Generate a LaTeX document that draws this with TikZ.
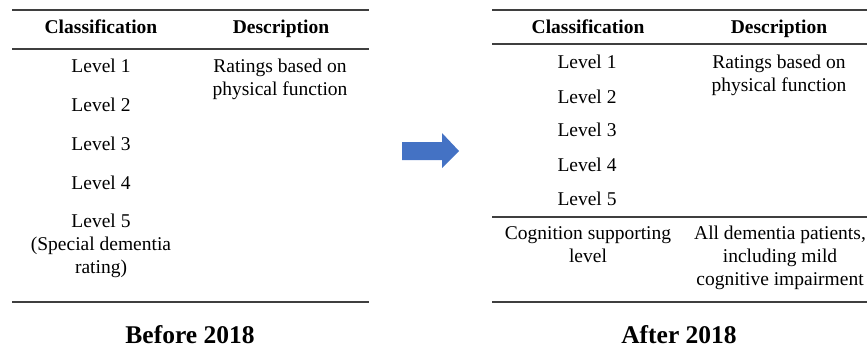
\documentclass[tikz,border=0pt]{standalone}
\usepackage{fontspec}
\setmainfont{Liberation Serif}
\definecolor{arrowblue}{HTML}{4472C4}
\definecolor{rulegray}{HTML}{3F3F3F}
\begin{document}
\begin{tikzpicture}[x=1pt,y=-1pt,
    cell/.style={align=center,inner sep=0pt,font=\fontsize{19.5}{23}\selectfont},
    head/.style={cell,anchor=base,font=\fontsize{19.5}{23}\selectfont\bfseries},
    title/.style={inner sep=0pt,anchor=base,font=\fontsize{25.5}{30}\selectfont\bfseries},
    hrule/.style={draw=rulegray,line width=1.4pt}]
    \useasboundingbox (0,0) rectangle (867,346);
    % before 2018
    \draw[hrule] (12,10) -- (369,10);
    \draw[hrule] (12,49) -- (369,49);
    \draw[hrule] (12,302) -- (369,302);
    \node[head] (lclass) at (101,33.5) {Classification};
    \node[head] (ldesc) at (281,33.5) {Description};
    \foreach \i/\y in {1/66,2/105,3/144,4/183} {
        \node[cell] (llev\i) at (101,\y) {Level \i};
    }
    \node[cell] (llev5) at (101,246) {Level 5\\(Special dementia\\rating)};
    \node[cell] (lrate) at (280,79) {Ratings based on\\physical function};
    \node[title] (before) at (190,343) {Before 2018};
    % arrow
    \fill[arrowblue] (402,142) -- (442,142) -- (442,133) -- (459,151)
        -- (442,168) -- (442,160) -- (402,160) -- cycle;
    % after 2018
    \draw[hrule] (492,10) -- (867,10);
    \draw[hrule] (492,44) -- (867,44);
    \draw[hrule] (492,217) -- (867,217);
    \draw[hrule] (492,302) -- (867,302);
    \node[head] (rclass) at (588,33.5) {Classification};
    \node[head] (rdesc) at (779,33.5) {Description};
    \foreach \i/\y in {1/62,2/97,3/130,4/165,5/199} {
        \node[cell] (rlev\i) at (587,\y) {Level \i};
    }
    \node[cell] (rrate) at (779,75) {Ratings based on\\physical function};
    \node[cell] (rcog) at (588,245) {Cognition supporting\\level};
    \node[cell] (rall) at (780,258) {All dementia patients,\\including mild\\cognitive impairment};
    \node[title] (after) at (679,343) {After 2018};
\end{tikzpicture}
\end{document}
